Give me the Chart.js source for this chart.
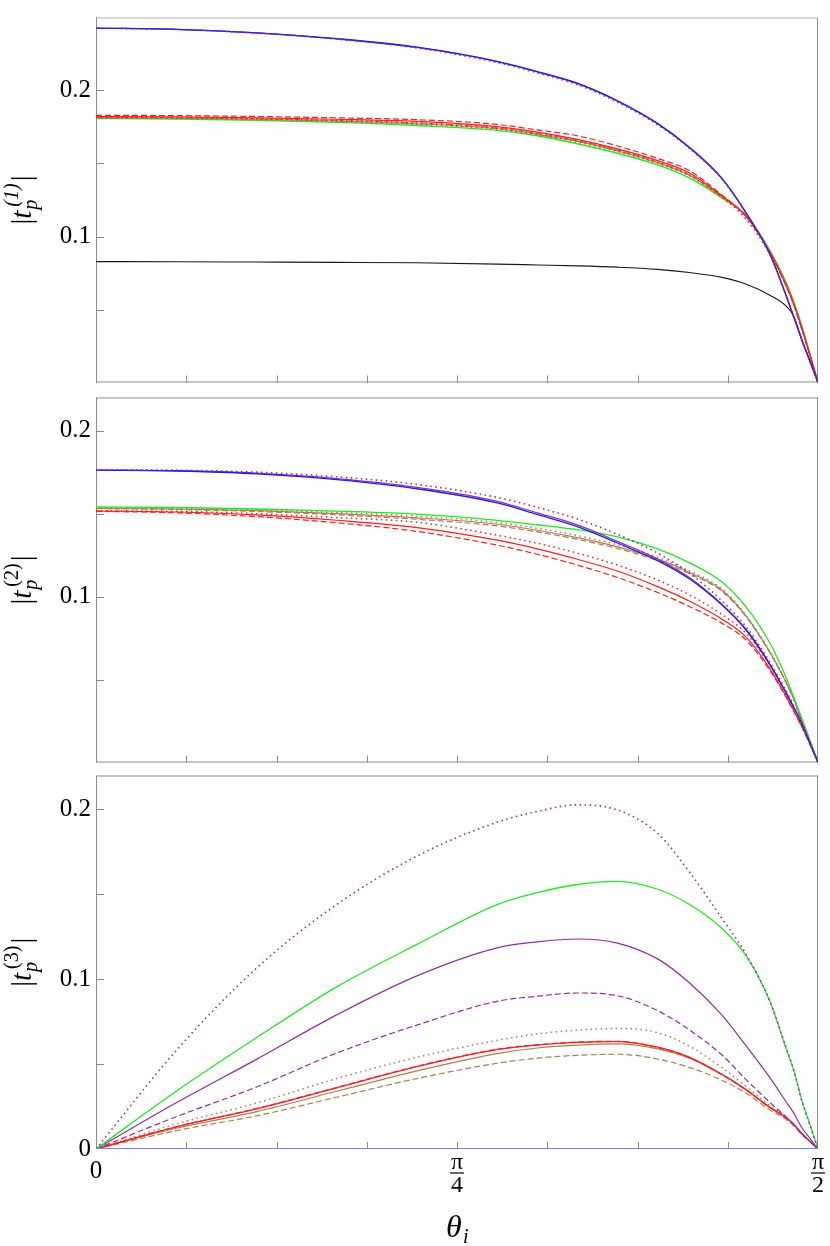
<!DOCTYPE html>
<html>
<head>
<meta charset="utf-8">
<script src="https://cdn.jsdelivr.net/npm/chart.js@4.4.1/dist/chart.umd.min.js"></script>
<style>
body { margin: 0; background: #fff; }
#wrap { position: relative; width: 830px; height: 1246px; }
canvas { position: absolute; left: 0; }
</style>
</head>
<body>
<div id="wrap">
<canvas id="c1" width="830" height="400" style="top:0px"></canvas>
<canvas id="c2" width="830" height="400" style="top:380px"></canvas>
<canvas id="c3" width="830" height="488" style="top:758px"></canvas>
</div>
<script>
// incidence angle samples (degrees)
const thetaDeg = [0, 10, 20, 30, 40, 50, 55, 60, 65, 70, 74, 78, 81, 84, 86, 87, 88, 89, 90];
const thetaRad = thetaDeg.map(d => d * Math.PI / 180);

// |t_p^(1)|
const p1Blue      = [0.2427, 0.2419, 0.2395, 0.2355, 0.2297, 0.2200, 0.2130, 0.2050, 0.1930, 0.1775, 0.1610, 0.1400, 0.1166, 0.0880, 0.0600, 0.0445, 0.0290, 0.0145, 0];
const p1Purple    = [0.2427, 0.2419, 0.2395, 0.2354, 0.2295, 0.2198, 0.2128, 0.2047, 0.1927, 0.1772, 0.1607, 0.1398, 0.1164, 0.0879, 0.0599, 0.0445, 0.0290, 0.0145, 0];
const p1PurpleDot = [0.2426, 0.2418, 0.2393, 0.2352, 0.2291, 0.2192, 0.2121, 0.2040, 0.1920, 0.1765, 0.1602, 0.1395, 0.1162, 0.0878, 0.0598, 0.0444, 0.0289, 0.0145, 0];
const p1RedDash   = [0.1830, 0.1828, 0.1822, 0.1813, 0.1800, 0.1768, 0.1730, 0.1690, 0.1620, 0.1535, 0.1450, 0.1285, 0.1140, 0.0890, 0.0665, 0.0528, 0.0362, 0.0183, 0];
const p1Red       = [0.1822, 0.1820, 0.1813, 0.1803, 0.1788, 0.1752, 0.1715, 0.1665, 0.1600, 0.1520, 0.1435, 0.1280, 0.1140, 0.0892, 0.0668, 0.0532, 0.0366, 0.0186, 0];
const p1RedDot    = [0.1816, 0.1814, 0.1806, 0.1795, 0.1778, 0.1742, 0.1705, 0.1655, 0.1590, 0.1510, 0.1420, 0.1270, 0.1120, 0.0880, 0.0668, 0.0535, 0.0368, 0.0188, 0];
const p1Brown     = [0.1813, 0.1811, 0.1803, 0.1790, 0.1772, 0.1738, 0.1700, 0.1652, 0.1587, 0.1505, 0.1418, 0.1272, 0.1142, 0.0898, 0.0678, 0.0542, 0.0375, 0.0190, 0];
const p1BrownDash = [0.1815, 0.1813, 0.1806, 0.1794, 0.1777, 0.1744, 0.1706, 0.1658, 0.1592, 0.1510, 0.1423, 0.1276, 0.1142, 0.0896, 0.0676, 0.0540, 0.0373, 0.0189, 0];
const p1BrownDot  = [0.1811, 0.1809, 0.1800, 0.1786, 0.1767, 0.1733, 0.1695, 0.1646, 0.1582, 0.1500, 0.1413, 0.1268, 0.1135, 0.0894, 0.0676, 0.0542, 0.0375, 0.0190, 0];
const p1Green     = [0.1808, 0.1805, 0.1796, 0.1782, 0.1760, 0.1727, 0.1690, 0.1635, 0.1570, 0.1490, 0.1400, 0.1265, 0.1145, 0.0905, 0.0690, 0.0550, 0.0385, 0.0195, 0];
const p1Black     = [0.0828, 0.0827, 0.0825, 0.0823, 0.0820, 0.0811, 0.0805, 0.0799, 0.0790, 0.0775, 0.0753, 0.0720, 0.0675, 0.0598, 0.0525, 0.0450, 0.0292, 0.0146, 0];

// |t_p^(2)|
const p2Blue      = [0.1762, 0.1757, 0.1740, 0.1705, 0.1650, 0.1565, 0.1495, 0.1422, 0.1323, 0.1217, 0.1106, 0.0950, 0.0800, 0.0590, 0.0420, 0.0330, 0.0232, 0.0117, 0];
const p2Purple    = [0.1763, 0.1759, 0.1744, 0.1711, 0.1658, 0.1574, 0.1505, 0.1432, 0.1333, 0.1227, 0.1114, 0.0956, 0.0805, 0.0594, 0.0424, 0.0333, 0.0234, 0.0118, 0];
const p2PurpleDot = [0.1765, 0.1762, 0.1750, 0.1722, 0.1676, 0.1598, 0.1538, 0.1468, 0.1375, 0.1262, 0.1140, 0.0975, 0.0820, 0.0605, 0.0435, 0.0342, 0.0240, 0.0121, 0];
const p2Green     = [0.1540, 0.1537, 0.1528, 0.1515, 0.1497, 0.1460, 0.1433, 0.1403, 0.1360, 0.1287, 0.1203, 0.1090, 0.0940, 0.0720, 0.0515, 0.0390, 0.0265, 0.0135, 0];
const p2BrownDot  = [0.1534, 0.1530, 0.1522, 0.1507, 0.1485, 0.1447, 0.1412, 0.1368, 0.1312, 0.1237, 0.1155, 0.1048, 0.0890, 0.0670, 0.0490, 0.0384, 0.0250, 0.0127, 0];
const p2Brown     = [0.1532, 0.1528, 0.1518, 0.1500, 0.1475, 0.1436, 0.1400, 0.1355, 0.1300, 0.1227, 0.1145, 0.1040, 0.0885, 0.0665, 0.0485, 0.0380, 0.0248, 0.0126, 0];
const p2BrownDash = [0.1530, 0.1525, 0.1513, 0.1493, 0.1466, 0.1426, 0.1390, 0.1345, 0.1290, 0.1217, 0.1137, 0.1033, 0.0880, 0.0662, 0.0483, 0.0378, 0.0247, 0.0125, 0];
const p2RedDot    = [0.1518, 0.1514, 0.1500, 0.1476, 0.1448, 0.1370, 0.1322, 0.1262, 0.1190, 0.1100, 0.1010, 0.0893, 0.0780, 0.0585, 0.0415, 0.0320, 0.0222, 0.0114, 0];
const p2Red       = [0.1516, 0.1510, 0.1492, 0.1460, 0.1416, 0.1340, 0.1288, 0.1225, 0.1154, 0.1060, 0.0972, 0.0865, 0.0757, 0.0566, 0.0400, 0.0310, 0.0215, 0.0110, 0];
const p2RedDash   = [0.1514, 0.1505, 0.1482, 0.1445, 0.1393, 0.1310, 0.1255, 0.1190, 0.1115, 0.1025, 0.0940, 0.0840, 0.0740, 0.0555, 0.0395, 0.0306, 0.0212, 0.0108, 0];

// |t_p^(3)|
const p3PurpleDot  = [0, 0.0580, 0.1065, 0.1440, 0.1725, 0.1925, 0.1988, 0.2027, 0.1997, 0.1860, 0.1630, 0.1360, 0.1150, 0.0870, 0.0600, 0.0460, 0.0280, 0.0140, 0];
const p3Green      = [0, 0.0340, 0.0655, 0.0955, 0.1205, 0.1440, 0.1510, 0.1558, 0.1576, 0.1530, 0.1440, 0.1300, 0.1140, 0.0870, 0.0595, 0.0460, 0.0285, 0.0145, 0];
const p3Purple     = [0, 0.0272, 0.0528, 0.0790, 0.1020, 0.1185, 0.1220, 0.1237, 0.1213, 0.1120, 0.0978, 0.0790, 0.0610, 0.0420, 0.0280, 0.0210, 0.0125, 0.0062, 0];
const p3PurpleDash = [0, 0.0190, 0.0365, 0.0565, 0.0730, 0.0870, 0.0900, 0.0919, 0.0903, 0.0815, 0.0700, 0.0555, 0.0410, 0.0275, 0.0190, 0.0145, 0.0090, 0.0045, 0];
const p3BrownDot   = [0, 0.0148, 0.0270, 0.0415, 0.0540, 0.0640, 0.0678, 0.0700, 0.0710, 0.0685, 0.0605, 0.0480, 0.0370, 0.0255, 0.0190, 0.0145, 0.0090, 0.0045, 0];
const p3Red        = [0, 0.0130, 0.0236, 0.0360, 0.0485, 0.0585, 0.0612, 0.0628, 0.0633, 0.0600, 0.0540, 0.0440, 0.0350, 0.0245, 0.0185, 0.0142, 0.0090, 0.0045, 0];
const p3RedDash    = [0, 0.0131, 0.0238, 0.0362, 0.0487, 0.0587, 0.0614, 0.0630, 0.0634, 0.0598, 0.0537, 0.0438, 0.0349, 0.0244, 0.0184, 0.0141, 0.0089, 0.0045, 0];
const p3Brown      = [0, 0.0122, 0.0220, 0.0340, 0.0460, 0.0562, 0.0595, 0.0612, 0.0619, 0.0590, 0.0535, 0.0440, 0.0350, 0.0245, 0.0185, 0.0142, 0.0090, 0.0045, 0];
const p3BrownDash  = [0, 0.0108, 0.0195, 0.0305, 0.0415, 0.0505, 0.0535, 0.0552, 0.0558, 0.0530, 0.0480, 0.0405, 0.0330, 0.0230, 0.0175, 0.0135, 0.0085, 0.0043, 0];
const p3Blue       = [0, 0, 0, 0, 0, 0, 0, 0, 0, 0, 0, 0, 0, 0, 0, 0, 0, 0, 0];

const xTickLabels = ['0', ['π', '4'], ['π', '2']];
const yTickLabels = ['0', '0.1', '0.2'];

const BLUE = 'rgb(30,30,235)';
const PURPLE = 'rgb(145,45,165)';
const RED = 'rgb(255,30,30)';
const BROWN = 'rgb(175,125,85)';
const GREEN = 'rgb(30,235,30)';
const BLACK = 'rgb(25,25,25)';
const SOLID = [];
const DASH = [6, 3];
const DOT = [1.5, 3.5];
const SERIF = '"Liberation Serif", "Times New Roman", serif';

function makeLine(values, color, dash, width) {
    return {
        data: values.map((v, i) => ({ x: thetaRad[i], y: v })),
        borderColor: color,
        borderDash: dash,
        borderWidth: width || 1.2,
        pointRadius: 0,
        fill: false,
        cubicInterpolationMode: 'monotone'
    };
}

function yTickCallback(showZero) {
    return function (v) {
        if (Math.abs(v - 0.1) < 1e-6) return yTickLabels[1];
        if (Math.abs(v - 0.2) < 1e-6) return yTickLabels[2];
        if (showZero && Math.abs(v) < 1e-9) return yTickLabels[0];
        return '';
    };
}

// frame + inward tick marks, like the original plot
function framePlugin(topColor) {
    return {
        id: 'frame',
        beforeDatasetsDraw(chart) {
            const { ctx, chartArea: a, scales } = chart;
            ctx.save();
            ctx.lineWidth = 1;
            ctx.strokeStyle = '#8c8c8c';
            ctx.beginPath();
            for (let v = 0.05; v < scales.y.max; v += 0.05) {
                const py = Math.round(scales.y.getPixelForValue(v)) + 0.5;
                ctx.moveTo(a.left, py);
                ctx.lineTo(a.left + 8, py);
            }
            for (let i = 1; i < 8; i++) {
                const px = Math.round(scales.x.getPixelForValue(i * Math.PI / 16)) + 0.5;
                ctx.moveTo(px, a.bottom);
                ctx.lineTo(px, a.bottom - 7);
            }
            ctx.moveTo(a.left + 0.5, a.top);
            ctx.lineTo(a.left + 0.5, a.bottom);
            ctx.moveTo(a.right - 0.5, a.top);
            ctx.lineTo(a.right - 0.5, a.bottom);
            ctx.moveTo(a.left, a.bottom - 0.5);
            ctx.lineTo(a.right, a.bottom - 0.5);
            ctx.stroke();
            ctx.strokeStyle = topColor;
            ctx.beginPath();
            ctx.moveTo(a.left, a.top + 0.5);
            ctx.lineTo(a.right, a.top + 0.5);
            ctx.stroke();
            ctx.restore();
        }
    };
}

// vertical axis title |t_p^(n)|
function titlePlugin(num, italicNum) {
    return {
        id: 'ytitle',
        afterDraw(chart) {
            const { ctx, chartArea: a } = chart;
            const cy = (a.top + a.bottom) / 2;
            const big = 29, small = 20;
            const fUp = big + 'px ' + SERIF;
            const fIt = 'italic ' + big + 'px ' + SERIF;
            const fSub = 'italic ' + small + 'px ' + SERIF;
            const fSup = (italicNum ? 'italic ' : '') + small + 'px ' + SERIF;
            ctx.save();
            ctx.translate(31, cy);
            ctx.rotate(-Math.PI / 2);
            ctx.fillStyle = '#000';
            ctx.textBaseline = 'alphabetic';
            ctx.textAlign = 'left';
            const sup = '(' + num + ')';
            ctx.font = fUp; const wBar = ctx.measureText('|').width;
            ctx.font = fIt; const wT = ctx.measureText('t').width;
            ctx.font = fSub; const wP = ctx.measureText('p').width;
            ctx.font = fSup; const wS = ctx.measureText(sup).width;
            const total = wBar * 2 + wT + 1 + Math.max(wP, wS + 3) + 2;
            let x = -total / 2;
            ctx.font = fUp; ctx.fillText('|', x, 0); x += wBar;
            ctx.font = fIt; ctx.fillText('t', x, 0); x += wT + 1;
            ctx.font = fSub; ctx.fillText('p', x, 6);
            ctx.font = fSup; ctx.fillText(sup, x + 3, -13);
            x += Math.max(wP, wS + 3) + 2;
            ctx.font = fUp; ctx.fillText('|', x, 0);
            ctx.restore();
        }
    };
}

// x tick labels as stacked fractions, plus the θ_i title
const xLabelPlugin = {
    id: 'xlabels',
    afterDraw(chart) {
        const { ctx, chartArea: a, scales } = chart;
        ctx.save();
        ctx.fillStyle = '#000';
        ctx.strokeStyle = '#000';
        ctx.textAlign = 'center';
        ctx.textBaseline = 'alphabetic';
        const base = a.bottom;
        [0, Math.PI / 4, Math.PI / 2].forEach((v, i) => {
            const px = scales.x.getPixelForValue(v);
            const lab = xTickLabels[i];
            if (typeof lab === 'string') {
                ctx.font = '25px ' + SERIF;
                ctx.fillText(lab, px, base + 29);
            } else {
                ctx.font = '24px ' + SERIF;
                ctx.fillText(lab[0], px, base + 20);
                ctx.lineWidth = 1.2;
                ctx.beginPath();
                ctx.moveTo(px - 7, base + 24);
                ctx.lineTo(px + 7, base + 24);
                ctx.stroke();
                ctx.fillText(lab[1], px, base + 43);
            }
        });
        const cx = scales.x.getPixelForValue(Math.PI / 4);
        ctx.textAlign = 'left';
        ctx.font = 'italic 32px ' + SERIF;
        ctx.fillText('θ', cx - 11, base + 88);
        ctx.font = 'italic 20px ' + SERIF;
        ctx.fillText('i', cx + 6, base + 94);
        ctx.restore();
    }
};

function setPanel(idchart, datasets, yMax, pad, num, italicNum, showZero, extra) {
    const plugins = [framePlugin(pad.topColor), titlePlugin(num, italicNum)];
    if (extra) plugins.push(extra);
    const config = {
        type: 'line',
        data: { datasets: datasets },
        options: {
            responsive: false,
            animation: false,
            events: [],
            layout: { padding: { top: pad.top, bottom: pad.bottom, left: 0, right: 12 } },
            plugins: {
                legend: { display: false },
                tooltip: { enabled: false }
            },
            scales: {
                x: {
                    type: 'linear',
                    min: 0,
                    max: Math.PI / 2,
                    display: false
                },
                y: {
                    min: 0,
                    max: yMax,
                    afterFit: function (s) { s.width = 96; },
                    grid: { display: false, drawTicks: false },
                    border: { display: false },
                    ticks: {
                        stepSize: 0.05,
                        padding: 5,
                        color: '#000',
                        font: { family: SERIF, size: 25, lineHeight: 1 },
                        callback: yTickCallback(showZero)
                    }
                }
            }
        },
        plugins: plugins
    };
    new Chart(document.getElementById(idchart), config);
}

setPanel('c1', [
    makeLine(p1PurpleDot, PURPLE, DOT, 1.6),
    makeLine(p1Blue, BLUE, SOLID, 1.3),
    makeLine(p1Purple, PURPLE, SOLID, 1.3),
    makeLine(p1RedDash, RED, DASH),
    makeLine(p1RedDot, RED, DOT, 1.5),
    makeLine(p1Red, RED, SOLID),
    makeLine(p1BrownDash, BROWN, DASH),
    makeLine(p1BrownDot, BROWN, DOT, 1.5),
    makeLine(p1Brown, BROWN, SOLID),
    makeLine(p1Green, GREEN, SOLID, 1.4),
    makeLine(p1Black, BLACK, SOLID, 1.1)
], 0.25, { top: 14, bottom: 8, topColor: '#b4b4b4' }, 1, true, false);

setPanel('c2', [
    makeLine(p2PurpleDot, PURPLE, DOT, 1.6),
    makeLine(p2Blue, BLUE, SOLID, 1.3),
    makeLine(p2Purple, PURPLE, SOLID, 1.2),
    makeLine(p2Green, GREEN, SOLID, 1.3),
    makeLine(p2BrownDot, BROWN, DOT, 1.5),
    makeLine(p2BrownDash, BROWN, DASH),
    makeLine(p2Brown, BROWN, SOLID),
    makeLine(p2RedDot, RED, DOT, 1.5),
    makeLine(p2Red, RED, SOLID),
    makeLine(p2RedDash, RED, DASH)
], 0.22, { top: 13, bottom: 10, topColor: '#8c8c8c' }, 2, false, false);

setPanel('c3', [
    makeLine(p3Blue, 'rgb(125,125,235)', SOLID, 2),
    makeLine(p3PurpleDot, PURPLE, DOT, 1.6),
    makeLine(p3Green, GREEN, SOLID, 1.3),
    makeLine(p3Purple, PURPLE, SOLID, 1.2),
    makeLine(p3PurpleDash, PURPLE, DASH),
    makeLine(p3RedDash, RED, DASH, 1.3),
    makeLine(p3Red, RED, SOLID, 1.3),
    makeLine(p3BrownDot, BROWN, DOT, 1.5),
    makeLine(p3Brown, BROWN, SOLID),
    makeLine(p3BrownDash, BROWN, DASH)
], 0.22, { top: 12, bottom: 97, topColor: '#8c8c8c' }, 3, false, true, xLabelPlugin);
</script>
</body>
</html>
